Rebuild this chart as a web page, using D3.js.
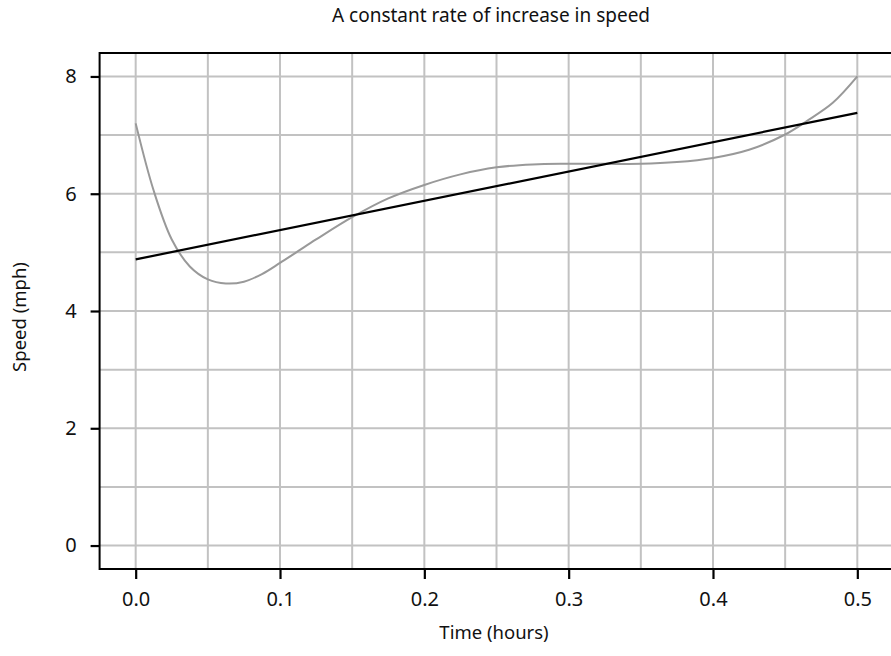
<!DOCTYPE html>
<html>
<head>
<meta charset="utf-8">
<script src="https://cdn.jsdelivr.net/npm/d3@7"></script>
<style>
  body { margin: 0; background: #fff; }
  svg text { font-family: "Noto Sans", sans-serif; fill: #111; }
</style>
</head>
<body>
<div id="chart"></div>
<script>
// observed speed (gray curve)
var obsTime  = [0, 0.0125, 0.025, 0.0375, 0.05, 0.0625, 0.075, 0.0875, 0.1, 0.1125, 0.125,
                0.15, 0.175, 0.2, 0.225, 0.25, 0.275, 0.3, 0.325, 0.35, 0.375, 0.4,
                0.425, 0.45, 0.465, 0.483, 0.5];
var obsSpeed = [7.2, 6.05, 5.22, 4.76, 4.54, 4.47, 4.5, 4.63, 4.82, 5.02, 5.22,
                5.6, 5.92, 6.15, 6.33, 6.45, 6.5, 6.51, 6.51, 6.51, 6.54, 6.61,
                6.75, 7.01, 7.24, 7.55, 8.0];
// constant-rate line (black)
var fitTime  = [0, 0.5];
var fitSpeed = [4.88, 7.38];

var xTicks = [0, 0.1, 0.2, 0.3, 0.4, 0.5];
var yTicks = [0, 2, 4, 6, 8];
var xGrid  = d3.range(0, 0.5001, 0.05);
var yGrid  = d3.range(0, 8.001, 1);

var width = 891, height = 656;
var pLeft = 99.6, pRight = 893.4, pTop = 53, pBottom = 569;

var svg = d3.select("#chart").append("svg")
    .attr("width", width)
    .attr("height", height);

var x = d3.scaleLinear().domain([-0.025, 0.525]).range([pLeft, pRight]);
var y = d3.scaleLinear().domain([-0.4, 8.4]).range([pBottom, pTop]);

// grid
svg.append("g").selectAll("line")
  .data(xGrid)
  .join("line")
    .attr("x1", function(d) { return x(d); })
    .attr("x2", function(d) { return x(d); })
    .attr("y1", pTop).attr("y2", pBottom)
    .attr("stroke", "#c2c2c2").attr("stroke-width", 2);
svg.append("g").selectAll("line")
  .data(yGrid)
  .join("line")
    .attr("y1", function(d) { return y(d); })
    .attr("y2", function(d) { return y(d); })
    .attr("x1", pLeft).attr("x2", pRight)
    .attr("stroke", "#c2c2c2").attr("stroke-width", 2);

// curves
var obs = obsTime.map(function(t, i) { return [t, obsSpeed[i]]; });
var fit = fitTime.map(function(t, i) { return [t, fitSpeed[i]]; });

var smooth = d3.line()
    .x(function(d) { return x(d[0]); })
    .y(function(d) { return y(d[1]); })
    .curve(d3.curveCatmullRom.alpha(0.5));
var straight = d3.line()
    .x(function(d) { return x(d[0]); })
    .y(function(d) { return y(d[1]); });

svg.append("path")
    .datum(obs)
    .attr("d", smooth)
    .attr("fill", "none")
    .attr("stroke", "#999999")
    .attr("stroke-width", 2);

svg.append("path")
    .datum(fit)
    .attr("d", straight)
    .attr("fill", "none")
    .attr("stroke", "#000")
    .attr("stroke-width", 2.2);

// frame
svg.append("rect")
    .attr("x", pLeft).attr("y", pTop)
    .attr("width", pRight - pLeft).attr("height", pBottom - pTop)
    .attr("fill", "none")
    .attr("stroke", "#000")
    .attr("stroke-width", 2);

// axes
var xAxis = svg.append("g")
    .attr("transform", "translate(0," + pBottom + ")")
    .call(d3.axisBottom(x).tickValues(xTicks).tickFormat(d3.format(".1f"))
      .tickSize(10).tickPadding(13));
var yAxis = svg.append("g")
    .attr("transform", "translate(" + pLeft + ",0)")
    .call(d3.axisLeft(y).tickValues(yTicks).tickFormat(d3.format("d"))
      .tickSize(9).tickPadding(14));

[xAxis, yAxis].forEach(function(g) {
  g.select(".domain").remove();
  g.selectAll(".tick line").attr("stroke", "#000").attr("stroke-width", 2.2);
  g.selectAll(".tick text").attr("font-size", 20)
    .attr("font-family", "Noto Sans, sans-serif").attr("fill", "#111");
});

// titles
svg.append("text")
    .attr("x", 491).attr("y", 22)
    .attr("text-anchor", "middle")
    .attr("font-size", 19)
    .text("A constant rate of increase in speed");

svg.append("text")
    .attr("x", 494).attr("y", 639)
    .attr("text-anchor", "middle")
    .attr("font-size", 18.5)
    .text("Time (hours)");

svg.append("text")
    .attr("transform", "translate(26,317) rotate(-90)")
    .attr("text-anchor", "middle")
    .attr("font-size", 18.5)
    .text("Speed (mph)");
</script>
</body>
</html>
